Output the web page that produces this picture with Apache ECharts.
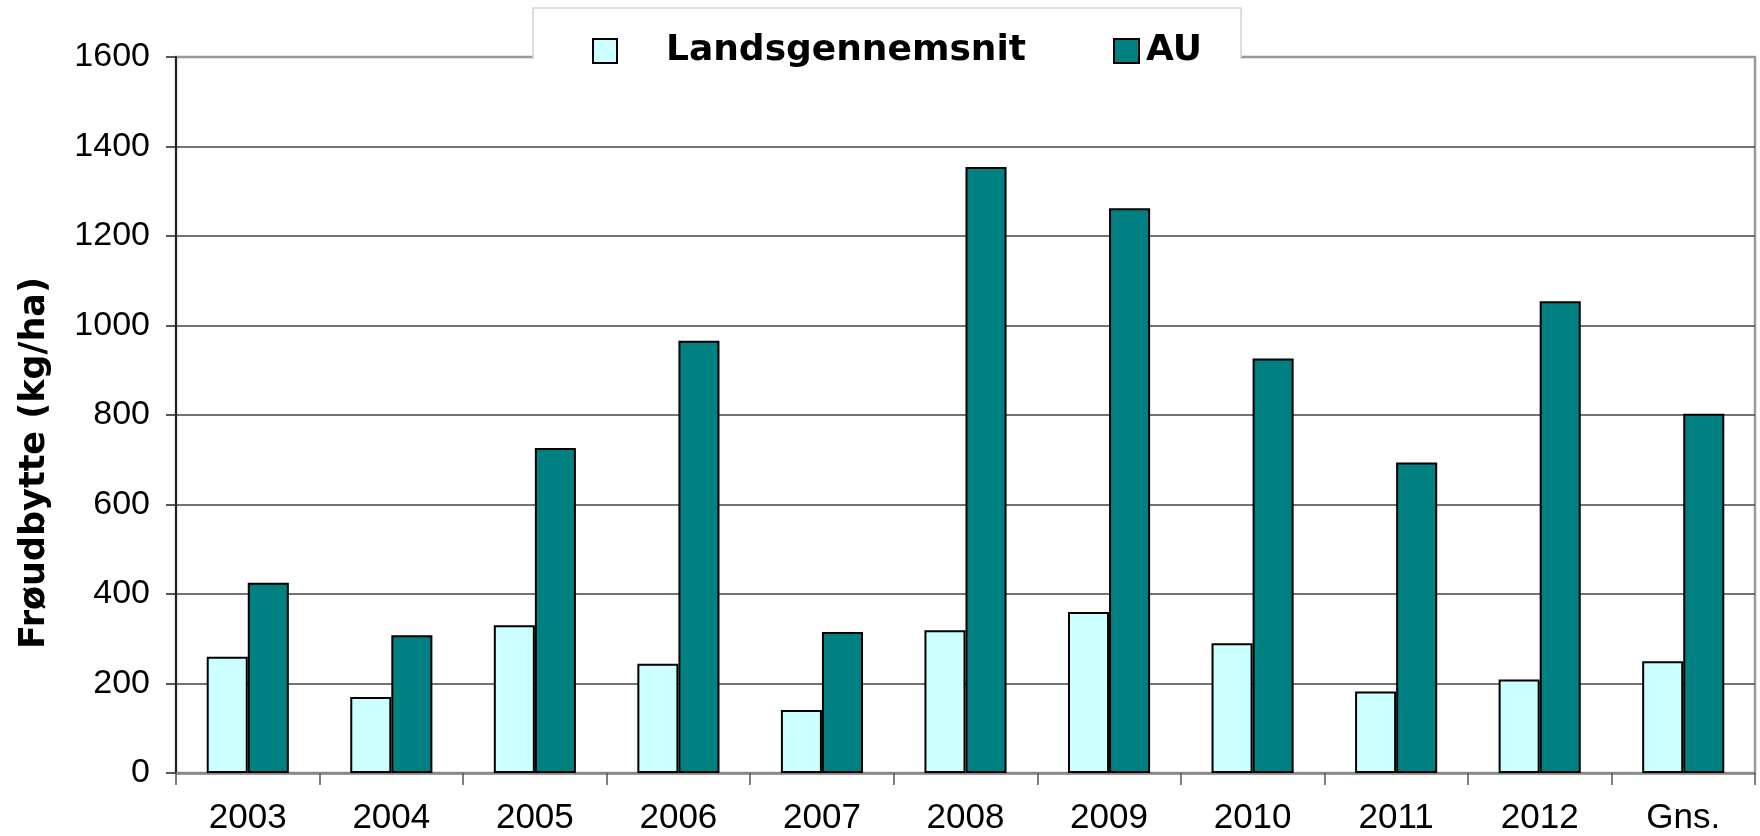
<!DOCTYPE html>
<html>
<head>
<meta charset="utf-8">
<script src="https://cdn.jsdelivr.net/npm/echarts@6/dist/echarts.min.js"></script>
<style>
  html, body { margin: 0; padding: 0; background: #fff; }
  #chart { width: 1760px; height: 836px; }
</style>
</head>
<body>
<div id="chart"></div>
<script>
// kategorier (år + gennemsnit)
const years = ['2003', '2004', '2005', '2006', '2007', '2008', '2009', '2010', '2011', '2012', 'Gns.'];
// frøudbytte kg/ha aflæst fra figuren
const landsgennemsnit = [260, 170, 330, 244, 141, 319, 360, 290, 182, 209, 250];
const au = [425, 308, 726, 966, 315, 1354, 1262, 926, 694, 1054, 803];
const yTicks = [0, 200, 400, 600, 800, 1000, 1200, 1400, 1600];

const chart = echarts.init(document.getElementById('chart'));

const labelFont = 'Liberation Sans, Arial, sans-serif';
const boldFont = 'DejaVu Sans, Verdana, sans-serif';

chart.setOption({
    animation: false,
    grid: {
        left: 176, right: 5, top: 57, bottom: 62,
        show: true,
        borderColor: '#999',
        borderWidth: 2.5
    },
    graphic: [
        {
            // legend box
            type: 'rect',
            z: 10,
            shape: { x: 533, y: 8, width: 708, height: 50 },
            style: { fill: '#fff', stroke: '#d4d4d4', lineWidth: 1.5 }
        },
        {
            type: 'rect',
            z: 11,
            shape: { x: 534, y: 50, width: 706, height: 10 },
            style: { fill: '#fff' }
        },
        {
            type: 'text',
            z: 10,
            x: 35, y: 463,
            rotation: Math.PI / 2,
            style: {
                text: 'Frøudbytte (kg/ha)',
                font: 'bold 35px ' + boldFont,
                fill: '#000',
                align: 'center',
                verticalAlign: 'middle'
            }
        }
    ],
    legend: [
        {
            data: ['Landsgennemsnit'],
            left: 587, top: 28,
            z: 20,
            icon: 'rect',
            itemWidth: 24, itemHeight: 24,
            textStyle: {
                fontFamily: boldFont, fontWeight: 'bold', fontSize: 36, color: '#000',
                padding: [0, 0, 0, 44]
            }
        },
        {
            data: ['AU'],
            left: 1108, top: 28,
            z: 20,
            icon: 'rect',
            itemWidth: 25, itemHeight: 24,
            textStyle: {
                fontFamily: boldFont, fontWeight: 'bold', fontSize: 36, color: '#000',
                padding: [0, 0, 0, 2]
            }
        }
    ],
    xAxis: {
        type: 'category',
        data: years,
        axisLine: { lineStyle: { color: '#888', width: 2.5 } },
        axisTick: { show: true, length: 12, lineStyle: { color: '#555', width: 1.5 } },
        axisLabel: { fontFamily: labelFont, fontSize: 35, color: '#000', margin: 28 }
    },
    yAxis: {
        type: 'value',
        min: yTicks[0],
        max: yTicks[yTicks.length - 1],
        interval: 200,
        axisLine: { show: true, lineStyle: { color: '#222', width: 2 } },
        axisTick: { show: true, length: 10, lineStyle: { color: '#222', width: 1.5 } },
        axisLabel: {
            fontFamily: labelFont, fontSize: 34, color: '#000', margin: 26,
            formatter: v => String(v)
        },
        splitLine: {
            lineStyle: {
                color: ['#888', '#444', '#444', '#444', '#444', '#444', '#444', '#444', '#999'],
                width: 1.5
            }
        }
    },
    series: [
        {
            name: 'Landsgennemsnit',
            type: 'bar',
            data: landsgennemsnit,
            barWidth: '28.6%',
            barGap: '0%',
            itemStyle: { color: '#ccffff', borderColor: '#000', borderWidth: 2 }
        },
        {
            name: 'AU',
            type: 'bar',
            data: au,
            barWidth: '28.6%',
            barGap: '0%',
            itemStyle: { color: '#008080', borderColor: '#000', borderWidth: 2 }
        }
    ]
});
</script>
</body>
</html>
